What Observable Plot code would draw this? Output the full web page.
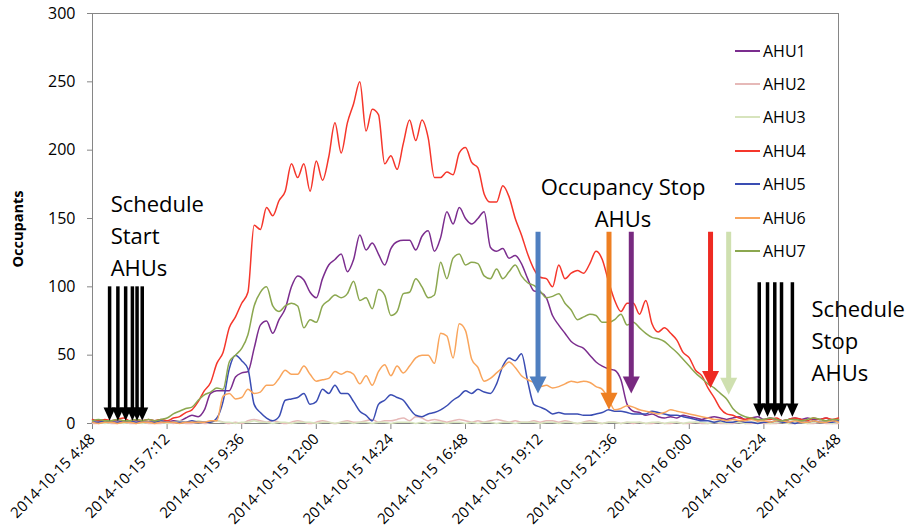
<!DOCTYPE html>
<html><head><meta charset="utf-8">
<script src="https://cdn.jsdelivr.net/npm/d3@7"></script>
<script src="https://cdn.jsdelivr.net/npm/@observablehq/plot@0.6"></script>
<style>
body{margin:0;background:#fff;font-family:"Open Sans",sans-serif;}
#wrap{position:relative;width:905px;height:528px;overflow:hidden;}
#legend{position:absolute;left:735px;top:34px;}
.row{display:flex;align-items:center;height:33.4px;font-size:16px;color:#000;}
.sw{width:25px;height:2px;margin-right:3px;}
#ylab{position:absolute;left:17px;top:229px;transform:translate(-50%,-50%) rotate(-90deg);font-weight:bold;font-size:14.5px;white-space:nowrap;}
</style></head><body><div id="wrap"></div><script>
// ---- data ----
const startTime = "2014-10-15 4:48";
const endTime = "2014-10-16 4:48";
const stepMinutes = 12;
const seriesNames = ["AHU1","AHU2","AHU3","AHU4","AHU5","AHU6","AHU7"];
const lineColors = ["#7b2d8e","#e6b9b8","#d7e4bd","#f5362b","#3a4db3","#f9a55c","#8ba74f"];
const tickLabels = ["2014-10-15 4:48","2014-10-15 7:12","2014-10-15 9:36","2014-10-15 12:00","2014-10-15 14:24","2014-10-15 16:48","2014-10-15 19:12","2014-10-15 21:36","2014-10-16 0:00","2014-10-16 2:24","2014-10-16 4:48"];
const yTicks = [0,50,100,150,200,250,300];

const ahu1 = [1,2,1,1,2,1,1,2,1,1,
 2,1,1,2,2,4,6,5,10,22,
 24,24,24,34,37,38,55,72,75,66,
 76,84,100,108,105,96,92,106,116,120,
 124,111,120,138,127,132,124,116,128,133,
 134,134,127,137,141,126,136,155,146,158,
 150,146,150,155,129,126,128,121,123,117,
 106,97,96,92,79,72,66,60,57,55,
 50,45,42,40,39,32,14,9,8,6,
 7,5,4,5,4,6,5,4,3,4,
 5,4,3,4,5,3,4,5,3,4,
 3,2,3,4,3,4,3,3,4,2,
 3];
const ahu2 = [0,0,1,0,0,1,0,0,1,0,
 0,0,1,0,1,0,0,1,0,1,
 2,1,0,1,0,2,3,2,1,2,
 1,0,1,2,1,0,1,2,1,0,
 1,2,1,1,2,3,1,2,2,3,
 4,2,5,4,2,3,2,1,2,3,
 2,1,2,1,2,3,2,1,2,1,
 1,2,1,2,2,1,2,1,0,1,
 2,1,0,1,1,0,1,0,1,0,
 0,1,0,0,1,0,0,1,0,0,
 1,0,0,0,1,0,0,1,0,0,
 0,1,0,0,1,0,0,1,0,0,
 0];
const ahu3 = [1,1,0,1,1,0,1,1,0,1,
 1,1,0,1,2,1,1,2,1,1,
 2,1,1,0,1,1,2,1,1,0,
 1,1,0,1,1,1,0,1,1,0,
 1,1,0,1,1,0,1,1,0,1,
 1,1,0,1,0,1,1,0,1,1,
 0,1,0,1,1,0,1,1,0,1,
 1,1,0,1,1,0,1,1,0,1,
 1,1,0,1,1,0,1,1,1,0,
 1,1,0,1,1,0,1,1,1,0,
 1,1,0,1,1,0,1,1,1,0,
 1,1,0,1,1,0,1,1,1,0,
 1];
const ahu4 = [3,2,3,2,3,4,2,3,2,3,
 2,3,2,4,5,8,10,16,24,30,
 44,52,70,78,88,96,145,142,158,152,
 163,170,190,180,190,170,192,178,195,220,
 198,220,234,250,214,230,226,190,196,186,
 205,222,207,222,209,180,180,184,182,198,
 202,191,187,168,162,162,174,166,150,138,
 124,113,107,106,100,116,106,110,112,110,
 117,126,120,104,90,82,88,88,80,90,
 73,67,70,66,61,52,48,39,35,26,
 19,11,7,6,4,3,4,2,3,3,
 4,2,3,4,3,2,4,3,4,3,
 4];
const ahu5 = [1,1,2,1,1,1,2,1,1,1,
 1,2,1,1,1,1,2,1,1,1,
 4,16,40,50,46,40,14,8,4,2,
 5,17,18,19,22,14,16,25,22,28,
 22,22,16,9,6,2,14,17,21,19,
 17,11,6,5,7,8,10,13,17,20,
 24,22,25,23,22,29,42,48,46,51,
 31,14,12,10,7,8,7,7,7,6,
 6,7,8,10,9,9,8,7,7,7,
 9,8,7,6,6,5,4,3,2,2,
 1,2,1,1,2,1,1,0,1,1,
 2,1,1,0,1,1,2,1,1,1,
 2];
const ahu6 = [1,0,1,1,0,1,1,0,1,1,
 0,1,1,1,0,1,1,1,1,2,
 2,20,22,18,19,25,22,23,28,28,
 33,39,36,36,42,36,31,32,33,38,
 36,38,36,29,35,28,38,43,35,42,
 37,42,48,50,50,44,66,64,48,73,
 68,47,41,31,33,37,41,45,41,35,
 32,30,27,28,26,27,29,31,30,31,
 30,27,25,18,10,11,13,12,10,9,
 8,7,8,10,9,8,7,6,5,4,
 3,3,2,3,2,2,3,2,2,1,
 2,2,1,2,1,1,2,1,1,2,
 1];
const ahu7 = [2,3,2,2,3,2,2,3,2,3,
 2,3,4,7,9,11,12,17,21,23,
 26,25,45,50,55,65,86,96,100,86,
 82,86,88,86,70,76,74,86,90,94,
 92,95,104,90,92,84,98,94,79,82,
 95,96,106,100,92,94,118,106,121,124,
 116,118,117,108,106,113,106,111,116,108,
 103,101,97,92,93,95,88,83,76,78,
 80,79,74,74,76,80,72,74,70,66,
 63,62,60,56,52,47,42,37,33,29,
 26,22,18,11,7,5,4,3,3,4,
 3,2,3,3,2,3,4,3,2,3,
 3];
const seriesValues = [ahu1, ahu2, ahu3, ahu4, ahu5, ahu6, ahu7];

// Occupancy stop arrows (AHU5, AHU6, AHU1, AHU4, AHU7)
const occStopTimes = ["2014-10-15 19:08","2014-10-15 21:25","2014-10-15 22:08","2014-10-16 0:41","2014-10-16 1:16"];
const occStopTips = [22, 10, 22, 26, 21];
const occStopColors = ["#4f7fc0","#ee7f22","#782a80","#ee2a22","#cfe0b0"];
const occStopTop = 140;
// Schedule start / stop arrows
const schedStartTimes = ["2014-10-15 5:21","2014-10-15 5:37","2014-10-15 5:52","2014-10-15 6:05","2014-10-15 6:14","2014-10-15 6:24"];
const schedStartTop = 100, schedStartTip = 2;
const schedStopTimes = ["2014-10-16 2:15","2014-10-16 2:31","2014-10-16 2:45","2014-10-16 2:58","2014-10-16 3:19"];
const schedStopTop = 103, schedStopTip = 5;
// Annotation texts
const noteLabels = ["Schedule\nStart\nAHUs", "Occupancy Stop\nAHUs", "Schedule\nStop\nAHUs"];
const noteTimes = ["2014-10-15 5:23", "2014-10-15 21:52", "2014-10-16 3:56"];
const noteValues = [139, 163, 62];
const noteAnchors = ["start", "middle", "start"];

// ---- build ----
const parse = d3.utcParse("%Y-%m-%d %H:%M");
const t0 = parse(startTime), t1 = parse(endTime);
const rows = [];
seriesNames.forEach((name, k) => seriesValues[k].forEach((v, i) =>
  rows.push({name, time: new Date(+t0 + i * stepMinutes * 60000), v})));
const tickDates = tickLabels.map(parse);
const labelMap = new Map(tickDates.map((d, i) => [+d, tickLabels[i]]));

function downTri(ratio) {
  return {draw(ctx, size) {
    const s = Math.sqrt(size);
    ctx.moveTo(-s / 2, -s * ratio); ctx.lineTo(s / 2, -s * ratio); ctx.lineTo(0, 0); ctx.closePath();
  }};
}
const occ = occStopTimes.map((t, i) => ({time: parse(t), top: occStopTop, tip: occStopTips[i], color: occStopColors[i]}));
const blackArr = [
  ...schedStartTimes.map(t => ({time: parse(t), top: schedStartTop, tip: schedStartTip})),
  ...schedStopTimes.map(t => ({time: parse(t), top: schedStopTop, tip: schedStopTip}))
];
const notes = noteLabels.map((l, i) => ({label: l, time: parse(noteTimes[i]), v: noteValues[i], anchor: noteAnchors[i]}));

const marks = [Plot.frame({stroke: "#868686"})];
seriesNames.forEach((name, k) => marks.push(Plot.line(rows.filter(r => r.name === name),
  {x: "time", y: "v", stroke: lineColors[k], strokeWidth: 1.5, curve: "monotone-x"})));
occ.forEach(a => {
  marks.push(Plot.ruleX([a], {x: "time", y1: "top", y2: "tip", stroke: a.color, strokeWidth: 5, insetBottom: 12}));
  marks.push(Plot.dot([a], {x: "time", y: "tip", r: 9.6, symbol: downTri(1), fill: a.color, stroke: "none"}));
});
marks.push(Plot.ruleX(blackArr, {x: "time", y1: "top", y2: "tip", stroke: "#000", strokeWidth: 3.5, insetBottom: 8}));
marks.push(Plot.dot(blackArr, {x: "time", y: "tip", r: 6.8, symbol: downTri(1.1), fill: "#000", stroke: "none"}));
notes.forEach(n => marks.push(Plot.text([n], {x: "time", y: "v", text: "label", textAnchor: n.anchor,
  lineAnchor: "middle", lineHeight: 1.45, fontSize: 22, fill: "#000"})));

const chart = Plot.plot({
  width: 905, height: 528,
  marginLeft: 92, marginRight: 67, marginTop: 13, marginBottom: 105,
  style: {fontFamily: "Open Sans", fontSize: "15px", background: "#fff", color: "#000"},
  x: {type: "utc", domain: [t0, t1], ticks: tickDates, tickFormat: d => labelMap.get(+d), tickRotate: -45, tickSize: 6, tickPadding: 7, label: null},
  y: {domain: [0, 300], ticks: yTicks, tickSize: 5, tickPadding: 12, label: null},
  marks
});
const wrap = document.getElementById("wrap");
wrap.appendChild(chart);
chart.querySelectorAll('[aria-label^="y-axis"] text').forEach(t => { t.setAttribute("font-size", "16px"); t.style.fontSize = "16px"; });
chart.querySelectorAll('[aria-label^="x-axis"] line, [aria-label^="y-axis"] line, [aria-label^="x-axis"] path, [aria-label^="y-axis"] path').forEach(l => l.setAttribute("stroke", "#868686"));

// legend
const lg = document.createElement("div"); lg.id = "legend";
seriesNames.forEach((name, k) => {
  const r = document.createElement("div"); r.className = "row";
  const s = document.createElement("div"); s.className = "sw"; s.style.background = lineColors[k];
  const t = document.createElement("span"); t.textContent = name;
  r.appendChild(s); r.appendChild(t); lg.appendChild(r);
});
wrap.appendChild(lg);
const yl = document.createElement("div"); yl.id = "ylab"; yl.textContent = "Occupants";
wrap.appendChild(yl);
</script></body></html>
